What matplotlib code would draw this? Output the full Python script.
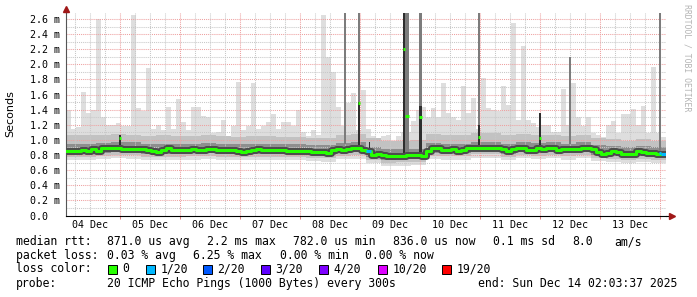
import numpy as np
import matplotlib.pyplot as plt
from matplotlib.patches import Rectangle

# time axis in days since 04 Dec 00:00
t_start, t_end = 0.1, 10.1
y_max = 2.68

day_labels = ['04 Dec', '05 Dec', '06 Dec', '07 Dec', '08 Dec',
              '09 Dec', '10 Dec', '11 Dec', '12 Dec', '13 Dec']
y_ticks = [0.0, 0.2, 0.4, 0.6, 0.8, 1.0, 1.2, 1.4, 1.6, 1.8, 2.0, 2.2, 2.4, 2.6]
y_labels = ['0.0  ', '0.2 m', '0.4 m', '0.6 m', '0.8 m', '1.0 m', '1.2 m', '1.4 m',
            '1.6 m', '1.8 m', '2.0 m', '2.2 m', '2.4 m', '2.6 m']

# median rtt (ms), 2h columns
med = [0.855, 0.855, 0.86, 0.87, 0.86, 0.875, 0.86, 0.89, 0.89, 0.89,
       0.89, 0.88, 0.885, 0.885, 0.885, 0.875, 0.87, 0.86, 0.84, 0.87,
       0.89, 0.87, 0.87, 0.87, 0.87, 0.875, 0.87, 0.87, 0.88, 0.88,
       0.87, 0.87, 0.87, 0.865, 0.86, 0.845, 0.85, 0.87, 0.875, 0.865,
       0.87, 0.87, 0.865, 0.865, 0.86, 0.86, 0.86, 0.86, 0.85, 0.845,
       0.845, 0.835, 0.825, 0.87, 0.885, 0.87, 0.875, 0.895, 0.89, 0.87,
       0.86, 0.80, 0.81, 0.795, 0.785, 0.79, 0.79, 0.79, 0.80, 0.80,
       0.80, 0.79, 0.86, 0.89, 0.89, 0.87, 0.87, 0.875, 0.86, 0.87,
       0.89, 0.89, 0.89, 0.895, 0.895, 0.895, 0.89, 0.875, 0.85, 0.875,
       0.895, 0.895, 0.87, 0.865, 0.895, 0.88, 0.89, 0.895, 0.87, 0.875,
       0.875, 0.875, 0.88, 0.895, 0.895, 0.875, 0.845, 0.82, 0.825, 0.85,
       0.84, 0.82, 0.82, 0.82, 0.85, 0.835, 0.83, 0.83, 0.81, 0.82]
med_loss = [0] * 60 + [1] + [0] * 58 + [1]

# highest ping (ms), 2h columns
smoke_max = [1.40, 1.15, 1.17, 1.63, 1.35, 1.40, 2.60, 1.31, 1.20, 1.20,
             1.22, 1.18, 1.18, 2.66, 1.42, 1.38, 1.95, 1.15, 1.20, 1.13,
             1.44, 1.15, 1.54, 1.24, 1.13, 1.43, 1.43, 1.32, 1.31, 1.09,
             1.10, 1.26, 1.05, 1.19, 1.77, 1.13, 1.19, 1.76, 1.15, 1.18,
             1.24, 1.34, 1.15, 1.24, 1.24, 1.18, 1.40, 1.11, 1.05, 1.13,
             1.07, 2.66, 2.10, 1.90, 1.44, 1.18, 1.49, 1.62, 1.13, 1.66,
             1.15, 1.05, 1.00, 1.05, 1.07, 0.98, 1.05, 1.10, 1.10, 1.25,
             1.40, 1.44, 1.31, 1.42, 1.31, 1.76, 1.36, 1.31, 1.27, 1.72,
             1.35, 1.55, 1.15, 1.82, 1.42, 1.40, 1.38, 1.71, 1.46, 2.55,
             1.26, 2.24, 1.27, 1.22, 1.17, 1.20, 1.20, 1.10, 1.11, 1.68,
             1.20, 1.76, 1.31, 1.18, 1.31, 1.09, 1.07, 1.04, 1.20, 1.25,
             1.09, 1.34, 1.34, 1.41, 1.20, 1.45, 1.09, 1.97, 1.09, 1.04]

# smoke bands (ms), 6h blocks
smoke_lo = [.73, .74, .75, .76, .75, .74, .74, .74, .74, .75, .74, .73, .74, .74, .73, .73, .72, .71, .75, .75,
            .69, .66, .66, .67, .75, .74, .74, .76, .76, .74, .76, .75, .76, .74, .76, .72, .71, .69, .71, .69]
mid_lo = [.77, .78, .79, .80, .80, .78, .78, .78, .79, .79, .78, .77, .78, .78, .78, .77, .76, .76, .79, .80,
          .74, .70, .71, .71, .79, .79, .79, .81, .81, .78, .80, .79, .80, .79, .80, .76, .75, .73, .75, .73]
dark_lo = [.81, .82, .83, .84, .84, .82, .82, .82, .83, .83, .82, .81, .82, .82, .82, .81, .80, .80, .83, .84,
           .78, .74, .75, .75, .83, .83, .83, .85, .85, .82, .84, .83, .84, .83, .84, .80, .79, .77, .79, .77]
dark_hi = [.94, .95, .96, .97, .97, .95, .95, .95, .95, .96, .95, .94, .95, .95, .94, .94, .93, .93, .96, .97,
           .91, .88, .88, .88, .96, .95, .95, .97, .97, .95, .97, .96, .97, .95, .97, .93, .92, .90, .92, .90]
mid_hi = [1.06, 1.07, 1.07, 1.08, 1.07, 1.05, 1.06, 1.05, 1.05, 1.06, 1.05, 1.04, 1.05, 1.05, 1.04, 1.04,
          1.03, 1.03, 1.07, 1.08, 1.02, 0.98, 0.98, 1.00, 1.08, 1.07, 1.07, 1.09, 1.09, 1.06, 1.08, 1.07,
          1.07, 1.05, 1.07, 1.02, 1.01, 0.99, 1.01, 0.99]

# short spikes
spike_t = [1.0, 4.75, 4.985, 5.158, 5.733, 5.783, 6.0, 6.983, 8.0, 8.5, 10.0]
spike_w = [0.033, 0.03, 0.035, 0.02, 0.04, 0.06, 0.05, 0.035, 0.035, 0.035, 0.035]
spike_lo = [0.93, 0.95, 0.88, 0.80, 0.80, 0.80, 0.80, 0.88, 0.88, 0.95, 0.85]
spike_core = [1.06, 0.95, 1.50, 0.97, 2.70, 0.80, 1.45, 1.20, 1.36, 0.95, 0.85]
spike_hi = [1.06, 2.70, 2.70, 0.97, 2.70, 2.70, 2.70, 2.70, 1.36, 2.10, 2.70]
spike_med = [1.02, None, 1.49, 0.86, 2.21, 1.32, 1.30, 1.04, 1.03, None, 0.83]
spike_loss = [0, 0, 0, 1, 0, 0, 0, 0, 0, 0, 1]

loss_names = ['0', '1/20', '2/20', '3/20', '4/20', '10/20', '19/20']
loss_colors = ['#26ff00', '#00b8ff', '#0059ff', '#5e00ff', '#7e00ff', '#dd00ff', '#ff0000']

plt.rcParams['font.family'] = 'DejaVu Sans Mono'
W, H = 697, 297
fig = plt.figure(figsize=(W / 100, H / 100), dpi=100)
ax = fig.add_axes([66 / W, 1 - 215.5 / H, 600 / W, 202.5 / H])
ax.set_xlim(t_start, t_end)
ax.set_ylim(0, y_max)

t2 = t_start + np.arange(len(med) + 1) / 12
t6 = t_start + np.arange(len(smoke_lo) + 1) * 0.25

def band(lo, hi, color, t):
    ax.fill_between(t, list(lo) + [lo[-1]], list(hi) + [hi[-1]], step='post',
                    color=color, linewidth=0, zorder=1)

band(smoke_lo, mid_hi, '#dedede', t6)
band([0.9] * len(smoke_max), smoke_max, '#dedede', t2)
band(mid_lo, mid_hi, '#c2c2c2', t6)
band(dark_lo, dark_hi, '#8e8e8e', t6)

# grid
for k in range(1, 27):
    y = k / 10
    major = k % 2 == 0
    ax.axhline(y, color='#eea0a0' if major else '#c8c8c8', lw=0.75,
               ls=(0, (1, 1)), zorder=2)
for k in range(1, 41):
    x = k * 0.25
    if x <= t_start:
        continue
    major = k % 4 == 0
    ax.axvline(x, color='#eea0a0' if major else '#c8c8c8', lw=0.75,
               ls=(0, (1, 1)), zorder=2)

# spikes
for t, w, lo, core, hi in zip(spike_t, spike_w, spike_lo, spike_core, spike_hi):
    if hi > core:
        ax.bar(t, hi - core, bottom=core, width=w, color='#7c7c7c', linewidth=0, zorder=3)
    if core > lo:
        ax.bar(t, core - lo, bottom=lo, width=w, color='#2e2e2e', linewidth=0, zorder=3)

# median
ax.step(t2, med + [med[-1]], where='post', color='#4c4c4c', lw=5, zorder=4)
ax.step(t2, med + [med[-1]], where='post', color=loss_colors[0], lw=2.2, zorder=5)
for j, l in enumerate(med_loss):
    if l:
        ax.hlines(med[j], t2[j], t2[j + 1], color=loss_colors[l], lw=2.2, zorder=6)
for t, w, m, l in zip(spike_t, spike_w, spike_med, spike_loss):
    if m is not None:
        ax.hlines(m, t - w / 2, t + w / 2, color=loss_colors[l], lw=2.2, zorder=6)

# axes
for s in ['top', 'right']:
    ax.spines[s].set_visible(False)
ax.spines['left'].set_color('#555555')
ax.spines['left'].set_linewidth(0.8)
ax.spines['bottom'].set_color('black')
ax.spines['bottom'].set_linewidth(0.8)
ax.plot([0, 0], [1, 1.02], color='#555555', lw=0.8, transform=ax.transAxes, clip_on=False)
ax.plot([1, 1.008], [0, 0], color='black', lw=0.8, transform=ax.transAxes, clip_on=False)
ax.plot([0], [1.022], marker='^', ms=4, color='#a01818', transform=ax.transAxes, clip_on=False, zorder=10)
ax.plot([1.01], [0], marker='>', ms=4, color='#a01818', transform=ax.transAxes, clip_on=False, zorder=10)

ax.set_yticks(y_ticks, labels=y_labels)
ax.tick_params(axis='y', length=0, pad=25.9, labelsize=7.2)
for lab in ax.get_yticklabels():
    lab.set_horizontalalignment('left')
ax.set_xticks(np.arange(1, 11), labels=[''] * 10)
ax.tick_params(axis='x', which='major', length=2.5, color='#e08080', width=0.75)
ax.set_xticks(np.arange(10) + 0.5, labels=day_labels, minor=True)
ax.tick_params(axis='x', which='minor', length=0, pad=3, labelsize=7.2)

fig.text(10 / W, 1 - 114 / H, 'Seconds', rotation=90, ha='center', va='center',
         fontsize=8, family='DejaVu Sans')
fig.text(687 / W, 1 - 4 / H, 'RRDTOOL / TOBI OETIKER', rotation=270, ha='center',
         va='top', fontsize=5.9, color='#b4b4b4')

# legend text
fs = 8.3
rows = [
    (241.7, [(16, 'median rtt:'), (107, '871.0 us avg'), (207, '2.2 ms max'),
             (293, '782.0 us min'), (393, '836.0 us now'), (493, '0.1 ms sd'),
             (572, '8.0'), (614, 'am/s')]),
    (255.3, [(16, 'packet loss:'), (107, '0.03 % avg'), (193, '6.25 % max'),
             (280, '0.00 % min'), (365, '0.00 % now')]),
    (269.0, [(16, 'loss color:')]),
    (283.3, [(16, 'probe:'), (107, '20 ICMP Echo Pings (1000 Bytes) every 300s'),
             (478, 'end: Sun Dec 14 02:03:37 2025')]),
]
for yy, items in rows:
    for xx, s in items:
        fig.text(xx / W, 1 - yy / H, s, ha='left', va='center', fontsize=fs)

box_x = [108, 146, 203, 261, 319, 378, 442]
for bx, name, c in zip(box_x, loss_names, loss_colors):
    fig.patches.append(Rectangle((bx / W, 1 - 273.5 / H), 8.5 / W, 8.5 / H,
                                 transform=fig.transFigure, facecolor=c,
                                 edgecolor='black', linewidth=0.7))
    fig.text((bx + 14.5) / W, 1 - 269 / H, name, ha='left', va='center', fontsize=fs)

fig.savefig('out.png', dpi=100)
